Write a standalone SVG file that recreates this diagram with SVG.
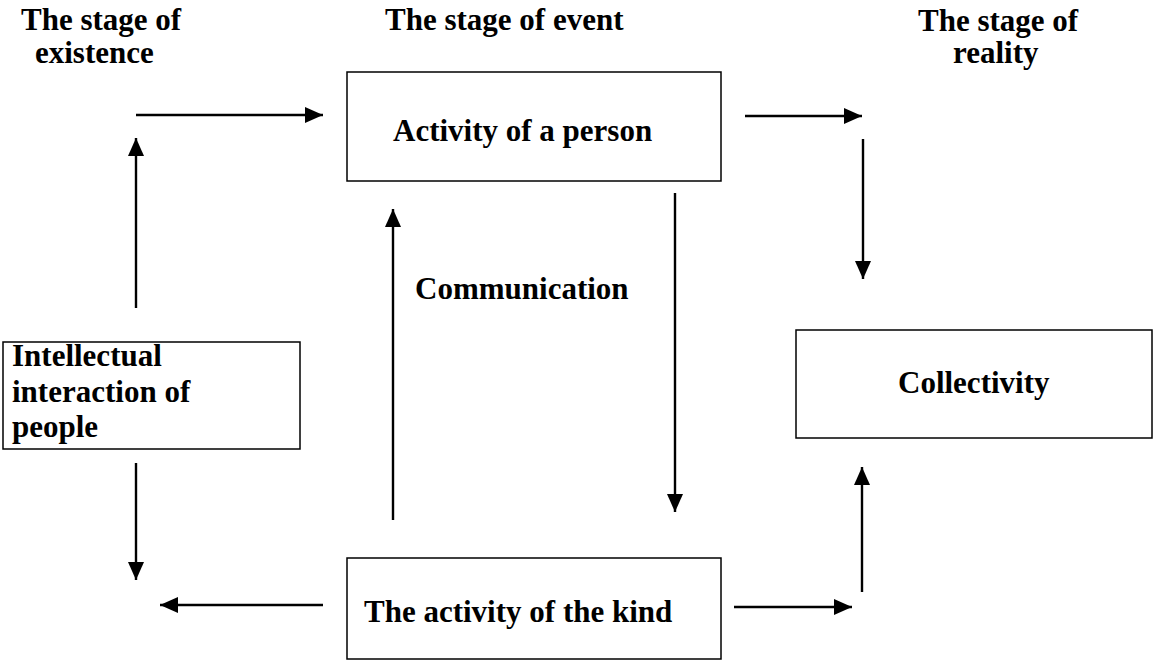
<svg xmlns="http://www.w3.org/2000/svg" width="1157" height="671" viewBox="0 0 1157 671">
<style>
text { font-family: "Liberation Serif", "Times New Roman", serif; font-weight: bold; font-size: 31px; fill: #000; }
.box { fill: #fff; stroke: #000; stroke-width: 1.5; }
.arrow { stroke: #000; stroke-width: 2.4; fill: none; marker-end: url(#head); }
</style>
<defs>
<marker id="head" markerUnits="userSpaceOnUse" markerWidth="18" markerHeight="16" refX="18" refY="8" orient="auto">
<path d="M0,0 L18,8 L0,16 Z" fill="#000"/>
</marker>
</defs>
<rect width="1157" height="671" fill="#fff"/>
<g id="headings">
<text x="21" y="30">The stage of</text>
<text x="35" y="63">existence</text>
<text x="385" y="30">The stage of event</text>
<text x="918" y="31">The stage of</text>
<text x="953" y="63">reality</text>
</g>
<g id="node-person">
<rect class="box" x="347" y="72" width="374" height="109"/>
<text x="393" y="141">Activity of a person</text>
</g>
<g id="node-intellectual">
<rect class="box" x="3" y="342" width="297" height="107"/>
<text x="12" y="366">Intellectual</text>
<text x="12" y="402">interaction of</text>
<text x="12" y="437">people</text>
</g>
<g id="node-collectivity">
<rect class="box" x="796" y="330" width="356" height="108"/>
<text x="898" y="393">Collectivity</text>
</g>
<g id="node-kind">
<rect class="box" x="347" y="558" width="374" height="101"/>
<text x="364" y="622">The activity of the kind</text>
</g>
<g id="label-communication">
<text x="415" y="299">Communication</text>
</g>
<g id="connectors">
<line class="arrow" x1="136" y1="115" x2="323" y2="115"/>
<line class="arrow" x1="136" y1="308" x2="136" y2="138"/>
<line class="arrow" x1="745" y1="116" x2="862" y2="116"/>
<line class="arrow" x1="863" y1="139" x2="863" y2="279"/>
<line class="arrow" x1="393" y1="520" x2="393" y2="209"/>
<line class="arrow" x1="675" y1="193" x2="675" y2="512"/>
<line class="arrow" x1="136" y1="463" x2="136" y2="580"/>
<line class="arrow" x1="323" y1="605" x2="160" y2="605"/>
<line class="arrow" x1="734" y1="607" x2="852" y2="607"/>
<line class="arrow" x1="862" y1="592" x2="862" y2="467"/>
</g>
</svg>
